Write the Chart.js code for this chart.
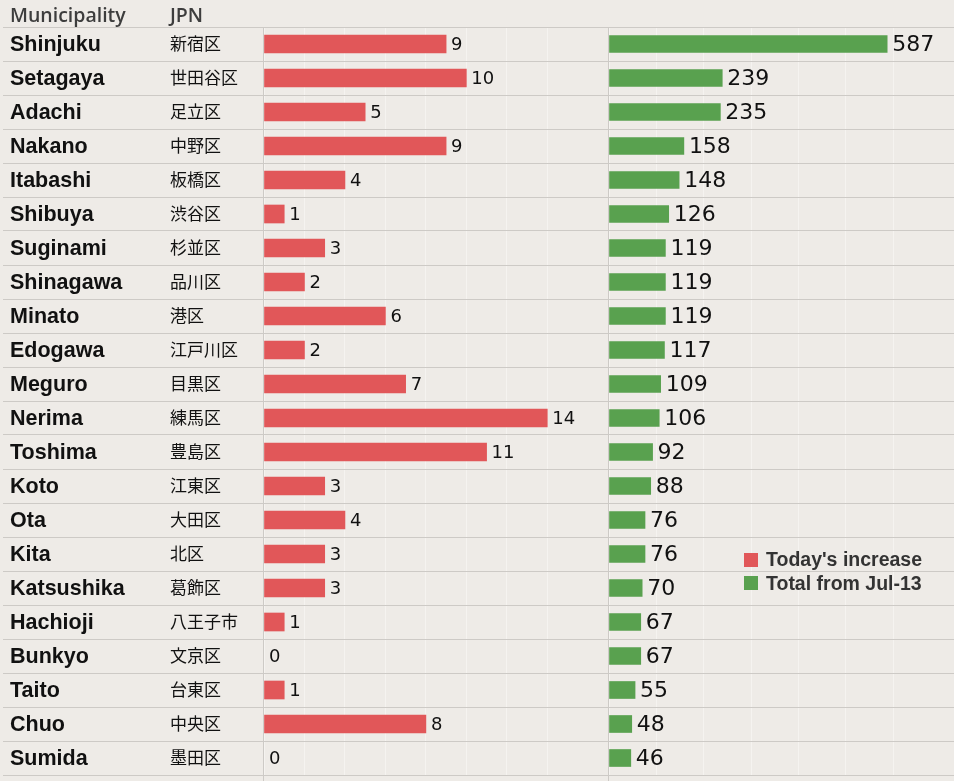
<!DOCTYPE html>
<html>
<head>
<meta charset="utf-8">
<script src="https://cdn.jsdelivr.net/npm/chart.js@4.4.1/dist/chart.umd.min.js"></script>
<style>
  body { margin: 0; background: #eeebe7; width: 954px; height: 781px; overflow: hidden; position: relative; }
  canvas { position: absolute; top: 0; }
  #redChart { left: 0; }
  #greenChart { left: 609px; }
  .legend { position: absolute; left: 744px; top: 548px; font: bold 19.5px "Liberation Sans", Arial, sans-serif; color: #333; }
  .legend div { height: 23.5px; display: flex; align-items: center; }
  .legend span { display: inline-block; width: 14px; height: 14px; margin-right: 8px; }
</style>
</head>
<body>
<canvas id="redChart" width="609" height="781"></canvas>
<canvas id="greenChart" width="345" height="781"></canvas>
<div class="legend">
  <div><span style="background:#e15759"></span>Today's increase</div>
  <div><span style="background:#59a14f"></span>Total from Jul-13</div>
</div>
<script>
const municipalities = ['Shinjuku', 'Setagaya', 'Adachi', 'Nakano', 'Itabashi', 'Shibuya', 'Suginami', 'Shinagawa',
  'Minato', 'Edogawa', 'Meguro', 'Nerima', 'Toshima', 'Koto', 'Ota', 'Kita', 'Katsushika', 'Hachioji',
  'Bunkyo', 'Taito', 'Chuo', 'Sumida'];
const jpnNames = ['新宿区', '世田谷区', '足立区', '中野区', '板橋区', '渋谷区', '杉並区', '品川区',
  '港区', '江戸川区', '目黒区', '練馬区', '豊島区', '江東区', '大田区', '北区', '葛飾区', '八王子市',
  '文京区', '台東区', '中央区', '墨田区'];
const todayIncrease = [9, 10, 5, 9, 4, 1, 3, 2, 6, 2, 7, 14, 11, 3, 4, 3, 3, 1, 0, 1, 8, 0];
const totalFromJul13 = [587, 239, 235, 158, 148, 126, 119, 119, 119, 117, 109, 106, 92, 88, 76, 76, 70, 67, 67, 55, 48, 46];

const ROW_LINE = '#cdcac6';
const GRID_WHITE = 'rgba(255,255,255,0.4)';

// horizontal row separators + vertical panel borders
function rowLines(ctx, chart, x0, x1, vlines) {
  const y = chart.scales.y;
  ctx.save();
  ctx.strokeStyle = ROW_LINE;
  ctx.lineWidth = 1;
  ctx.beginPath();
  for (let i = 0; i <= municipalities.length; i++) {
    const py = Math.floor(y.getPixelForValue(i - 0.5)) + 0.5;
    ctx.moveTo(x0, py);
    ctx.lineTo(x1, py);
  }
  vlines.forEach(x => {
    ctx.moveTo(x + 0.5, Math.floor(y.top));
    ctx.lineTo(x + 0.5, chart.height);
  });
  ctx.stroke();
  ctx.restore();
}

function valueLabels(chart, font) {
  const ctx = chart.ctx;
  const meta = chart.getDatasetMeta(0);
  const data = chart.data.datasets[0].data;
  ctx.save();
  ctx.font = font;
  ctx.fillStyle = '#111';
  ctx.textBaseline = 'middle';
  meta.data.forEach((bar, i) => {
    ctx.fillText(data[i], bar.x + 5, bar.y + 1);
  });
  ctx.restore();
}

const redPlugin = {
  id: 'redExtras',
  afterDraw(chart) {
    const ctx = chart.ctx;
    const area = chart.chartArea;
    rowLines(ctx, chart, 3, chart.width, [Math.round(area.left) - 1, Math.round(area.right)]);
    // header
    ctx.save();
    ctx.fillStyle = '#3d3d3d';
    ctx.font = '600 19.5px "Open Sans", sans-serif';
    ctx.fillText('Municipality', 10, 22);
    ctx.fillText('JPN', 170, 22);
    // row texts
    const y = chart.scales.y;
    municipalities.forEach((name, i) => {
      const py = y.getPixelForValue(i);
      ctx.fillStyle = '#111';
      ctx.font = 'bold 21.5px "Liberation Sans", Arial, sans-serif';
      ctx.fillText(name, 10, py + 7);
      ctx.font = '17px "Noto Sans CJK JP", sans-serif';
      ctx.fillText(jpnNames[i], 170, py + 6);
    });
    ctx.restore();
    valueLabels(chart, '18px "DejaVu Sans", sans-serif');
  }
};

const greenPlugin = {
  id: 'greenExtras',
  afterDraw(chart) {
    rowLines(chart.ctx, chart, 0, chart.width, []);
    valueLabels(chart, '22px "DejaVu Sans", sans-serif');
  }
};

function makeOptions(max, step, padLeft, padRight) {
  return {
    indexAxis: 'y',
    responsive: false,
    animation: false,
    layout: { padding: { left: padLeft, right: padRight, top: 27, bottom: 6 } },
    plugins: { legend: { display: false }, tooltip: { enabled: false } },
    scales: {
      x: {
        min: 0, max: max,
        ticks: { display: false, stepSize: step },
        grid: { color: GRID_WHITE, drawTicks: false },
        border: { display: false }
      },
      y: { display: false }
    }
  };
}

// zero values get no visible sliver
const barColor = c => ctx => (ctx.raw === 0 ? 'rgba(0,0,0,0)' : c);

new Chart(document.getElementById('redChart'), {
  type: 'bar',
  data: {
    labels: municipalities,
    datasets: [{ label: "Today's increase", data: todayIncrease, backgroundColor: barColor('#e15759'), barThickness: 18 }]
  },
  options: makeOptions(17, 2, 264, 1),
  plugins: [redPlugin]
});

new Chart(document.getElementById('greenChart'), {
  type: 'bar',
  data: {
    labels: municipalities,
    datasets: [{ label: 'Total from Jul-13', data: totalFromJul13, backgroundColor: barColor('#59a14f'), barThickness: 17 }]
  },
  options: makeOptions(728, 100, 0, 0),
  plugins: [greenPlugin]
});
</script>
</body>
</html>
